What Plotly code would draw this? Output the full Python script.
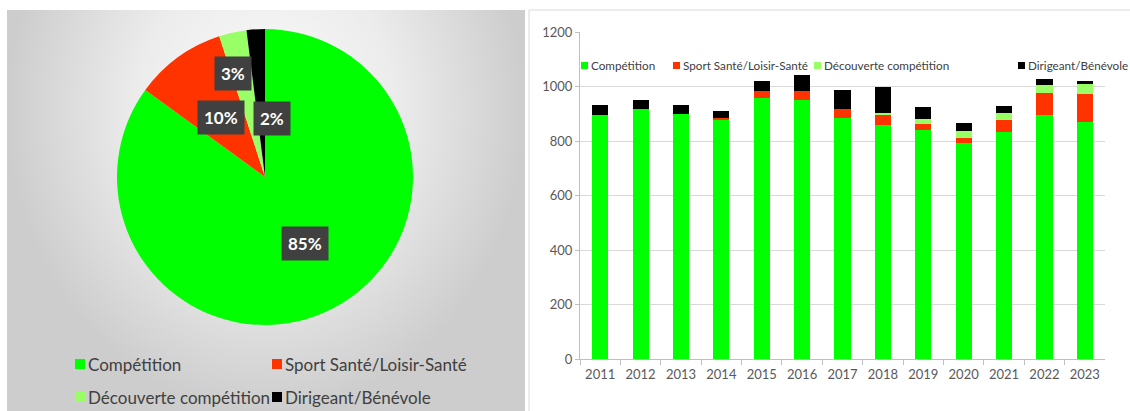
import plotly.graph_objects as go

W, H = 1130, 411

# ---------------- data ----------------
years = [str(y) for y in range(2011, 2024)]
competition = [894, 918, 898, 880, 958, 952, 885, 857, 840, 794, 833, 896, 869]
sport_sante = [0, 0, 0, 5, 24, 33, 33, 41, 21, 17, 45, 80, 103]
decouverte = [0, 0, 0, 0, 0, 0, 0, 6, 18, 26, 24, 30, 36]
dirigeant = [39, 34, 35, 26, 38, 56, 70, 96, 47, 28, 27, 22, 14]

pie_labels = ["Compétition", "Sport Santé/Loisir-Santé", "Découverte compétition", "Dirigeant/Bénévole"]
pie_values = [85, 10, 3, 2]

series_names = pie_labels
colors = ["#00ff00", "#ff3300", "#99ff66", "#000000"]
y_ticks = [0, 200, 400, 600, 800, 1000, 1200]

FONT = "Lato, 'Open Sans', sans-serif"


def px(x):
    return x / W


def py(y):
    return 1 - y / H


fig = go.Figure()

# -------- left panel background (radial gradient) --------
fig.add_trace(go.Scatter(
    x=[0, 1, 1, 0, 0], y=[0, 0, 1.5, 1.5, 0],
    xaxis="x2", yaxis="y2",
    mode="lines", line=dict(width=0),
    fill="toself",
    fillgradient=dict(type="radial",
                      colorscale=[[0, "#fbfbfb"], [0.5, "#ececec"], [1, "#cdcdcd"]]),
    hoverinfo="skip", showlegend=False,
))

# -------- pie --------
fig.add_trace(go.Pie(
    labels=pie_labels, values=pie_values,
    marker=dict(colors=colors, line=dict(width=0)),
    sort=False, direction="clockwise", rotation=0,
    textinfo="none", showlegend=False,
    domain=dict(x=[px(117), px(413)], y=[py(325), py(29)]),
))

# -------- stacked bars --------
for name, vals, col in zip(series_names, [competition, sport_sante, decouverte, dirigeant], colors):
    fig.add_trace(go.Bar(
        x=years, y=vals, name=name, marker=dict(color=col, line=dict(width=0)),
        showlegend=False, xaxis="x", yaxis="y",
    ))

annotations = []
shapes = []

# pie percentage labels
pie_label_pos = [(305, 243), (221, 117), (233, 73), (272, 119)]
for v, (lx, ly) in zip(pie_values, pie_label_pos):
    annotations.append(dict(
        x=px(lx), y=py(ly), xref="paper", yref="paper",
        text=f"<b>{v}%</b>", showarrow=False,
        font=dict(family=FONT, size=17, color="#ffffff"),
        bgcolor="#404040", borderpad=6, xanchor="center", yanchor="middle",
    ))

# pie legend box
shapes.append(dict(type="rect", xref="paper", yref="paper",
                   x0=px(68), x1=px(463), y0=py(411), y1=py(345),
                   fillcolor="#e1e1e1", line=dict(width=0), layer="below"))
pie_leg_pos = [(75, 364), (272, 364), (75, 397), (272, 397)]
for lab, col, (lx, ly) in zip(pie_labels, colors, pie_leg_pos):
    shapes.append(dict(type="rect", xref="paper", yref="paper",
                       x0=px(lx), x1=px(lx + 10), y0=py(ly + 5), y1=py(ly - 5),
                       fillcolor=col, line=dict(width=0)))
    annotations.append(dict(
        x=px(lx + 11), y=py(ly), xref="paper", yref="paper",
        text=lab, showarrow=False, xanchor="left", yanchor="middle",
        font=dict(family=FONT, size=17, color="#404040"),
    ))

# bar chart legend
bar_leg_pos = [581, 673, 814, 1018]
for lab, col, lx in zip(series_names, colors, bar_leg_pos):
    shapes.append(dict(type="rect", xref="paper", yref="paper",
                       x0=px(lx), x1=px(lx + 7), y0=py(69), y1=py(62),
                       fillcolor=col, line=dict(width=0)))
    annotations.append(dict(
        x=px(lx + 8), y=py(65), xref="paper", yref="paper",
        text=lab, showarrow=False, xanchor="left", yanchor="middle",
        font=dict(family=FONT, size=11.7, color="#404040"),
    ))

# right panel border
shapes.append(dict(type="line", xref="paper", yref="paper",
                   x0=px(529), x1=px(529), y0=0, y1=py(10),
                   line=dict(color="#d9d9d9", width=1)))
shapes.append(dict(type="line", xref="paper", yref="paper",
                   x0=px(529), x1=1, y0=py(10), y1=py(10),
                   line=dict(color="#d9d9d9", width=1)))

fig.update_layout(
    width=W, height=H,
    margin=dict(l=0, r=0, t=0, b=0),
    paper_bgcolor="#ffffff", plot_bgcolor="rgba(0,0,0,0)",
    barmode="stack", bargap=0.6,
    font=dict(family=FONT, color="#595959"),
    xaxis=dict(domain=[px(580), px(1105)], anchor="y",
               type="category", tickson="boundaries", ticks="outside",
               ticklen=5, tickcolor="#bfbfbf", showgrid=False,
               showline=True, linecolor="#bfbfbf", linewidth=1,
               tickfont=dict(family=FONT, size=13, color="#595959"),
               ticklabelstandoff=3,
               automargin=False, fixedrange=True),
    yaxis=dict(domain=[py(359), py(32)], anchor="x",
               range=[0, 1200], tickvals=y_ticks, ticks="outside",
               ticklen=4, tickcolor="#bfbfbf",
               showgrid=True, gridcolor="#d9d9d9", gridwidth=1,
               showline=True, linecolor="#bfbfbf", linewidth=1,
               zeroline=False,
               tickfont=dict(family=FONT, size=13, color="#595959"),
               automargin=False, fixedrange=True),
    xaxis2=dict(domain=[px(7), px(525)], anchor="y2", range=[0, 1],
                visible=False, fixedrange=True),
    yaxis2=dict(domain=[0, py(10)], anchor="x2", range=[0, 1],
                visible=False, fixedrange=True),
    annotations=annotations,
    shapes=shapes,
)

fig.write_html(
    "out.html",
    config={"displayModeBar": False},
    post_script=(
        "document.body.style.margin='0';"
        "document.body.style.overflow='hidden';"
        "document.documentElement.style.overflow='hidden';"
    ),
)
